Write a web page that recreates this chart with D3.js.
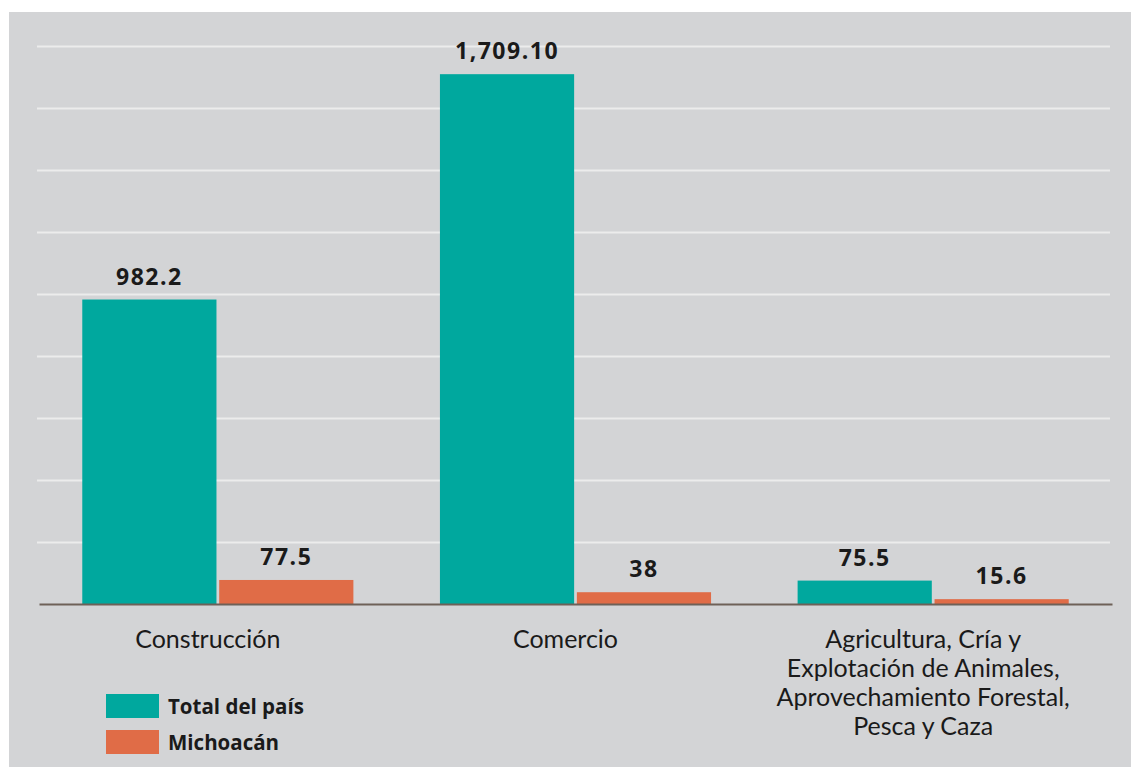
<!DOCTYPE html>
<html>
<head>
<meta charset="utf-8">
<script src="https://cdn.jsdelivr.net/npm/d3@7"></script>
<style>
  html, body { margin: 0; padding: 0; background: #ffffff; }
  svg { display: block; }
</style>
</head>
<body>
<svg id="chart" width="1131" height="767"></svg>
<script>
const categories = [
  ["Construcción"],
  ["Comercio"],
  ["Agricultura, Cría y", "Explotación de Animales,", "Aprovechamiento Forestal,", "Pesca y Caza"]
];
const categoryKeys = ["Construcción", "Comercio", "Agricultura"];
const seriesNames = ["Total del país", "Michoacán"];
const totalPais = [982.2, 1709.10, 75.5];
const michoacan = [77.5, 38, 15.6];
const valueLabels = [["982.2", "77.5"], ["1,709.10", "38"], ["75.5", "15.6"]];
const yTicks = [0, 200, 400, 600, 800, 1000, 1200, 1400, 1600, 1800];
const colors = ["#00a89e", "#e06c47"];

(function () {
const svg = d3.select("#chart");
const font = "'Open Sans', 'Noto Sans', sans-serif";
const catFont = "Lato, 'Open Sans', sans-serif";

// panel background
svg.append("rect").attr("x", 9).attr("y", 12).attr("width", 1122).attr("height", 755).attr("fill", "#d3d4d6");

const pl = 37, pr = 1110, pt = 46, pb = 604;
const y = d3.scaleLinear().domain([0, 1800]).range([pb, pt]);
const x0 = d3.scaleBand().domain(categoryKeys).range([pl + 2, pr + 2]).paddingInner(0.242).paddingOuter(0.121);
const x1 = d3.scaleBand().domain(seriesNames).range([0, x0.bandwidth()]).paddingInner(0.02);

// gridlines
const grid = svg.append("g")
  .attr("transform", `translate(${pl},0)`)
  .call(d3.axisLeft(y).tickValues(yTicks.slice(1)).tickSize(-(pr - pl)).tickFormat(""));
grid.select(".domain").remove();
grid.selectAll(".tick line").attr("stroke", "#ececec").attr("stroke-width", 2);

const data = categoryKeys.map((k, i) => ({ key: k, values: [totalPais[i], michoacan[i]], labels: valueLabels[i], lines: categories[i] }));

const groups = svg.selectAll("g.cat").data(data).join("g").attr("class", "cat")
  .attr("transform", d => `translate(${x0(d.key)},0)`);

const items = d => d.values.map((v, j) => ({ v, s: seriesNames[j], j, label: d.labels[j] }));

groups.selectAll("rect").data(items)
  .join("rect")
  .attr("x", d => x1(d.s))
  .attr("width", x1.bandwidth())
  .attr("y", d => y(d.v))
  .attr("height", d => y(0) - y(d.v))
  .attr("fill", d => colors[d.j]);

groups.selectAll("text.val").data(items)
  .join("text").attr("class", "val")
  .attr("x", d => x1(d.s) + x1.bandwidth() / 2)
  .attr("y", d => y(d.v) - 15)
  .attr("text-anchor", "middle")
  .attr("font-family", font)
  .attr("font-weight", "bold")
  .attr("font-size", 23)
  .attr("letter-spacing", 1.5)
  .attr("fill", "#1a1a1a")
  .text(d => d.label);

// baseline axis
const xAxis = svg.append("g").attr("transform", `translate(0,${pb})`)
  .call(d3.axisBottom(x0).tickSize(0).tickFormat(""));
xAxis.select(".domain").attr("stroke", "#6e6158").attr("stroke-width", 2);

// category labels
groups.each(function (d) {
  const cx = x0.bandwidth() / 2 - 10;
  const t = d3.select(this).append("text")
    .attr("x", cx)
    .attr("y", 648)
    .attr("text-anchor", "middle")
    .attr("font-family", catFont)
    .attr("font-size", 25)
    .attr("fill", "#1a1a1a");
  d.lines.forEach((ln, i) => {
    t.append("tspan").attr("x", cx).attr("dy", i === 0 ? 0 : 29).text(ln);
  });
});

// legend
const legend = svg.append("g").attr("transform", "translate(106,694)");
seriesNames.forEach((s, i) => {
  legend.append("rect").attr("x", 0).attr("y", i * 36).attr("width", 53).attr("height", 24).attr("fill", colors[i]);
  legend.append("text").attr("x", 62).attr("y", i * 36 + 20)
    .attr("font-family", font).attr("font-weight", "bold").attr("font-size", 20.5)
    .attr("fill", "#1a1a1a").text(s);
});
})();
</script>
</body>
</html>
